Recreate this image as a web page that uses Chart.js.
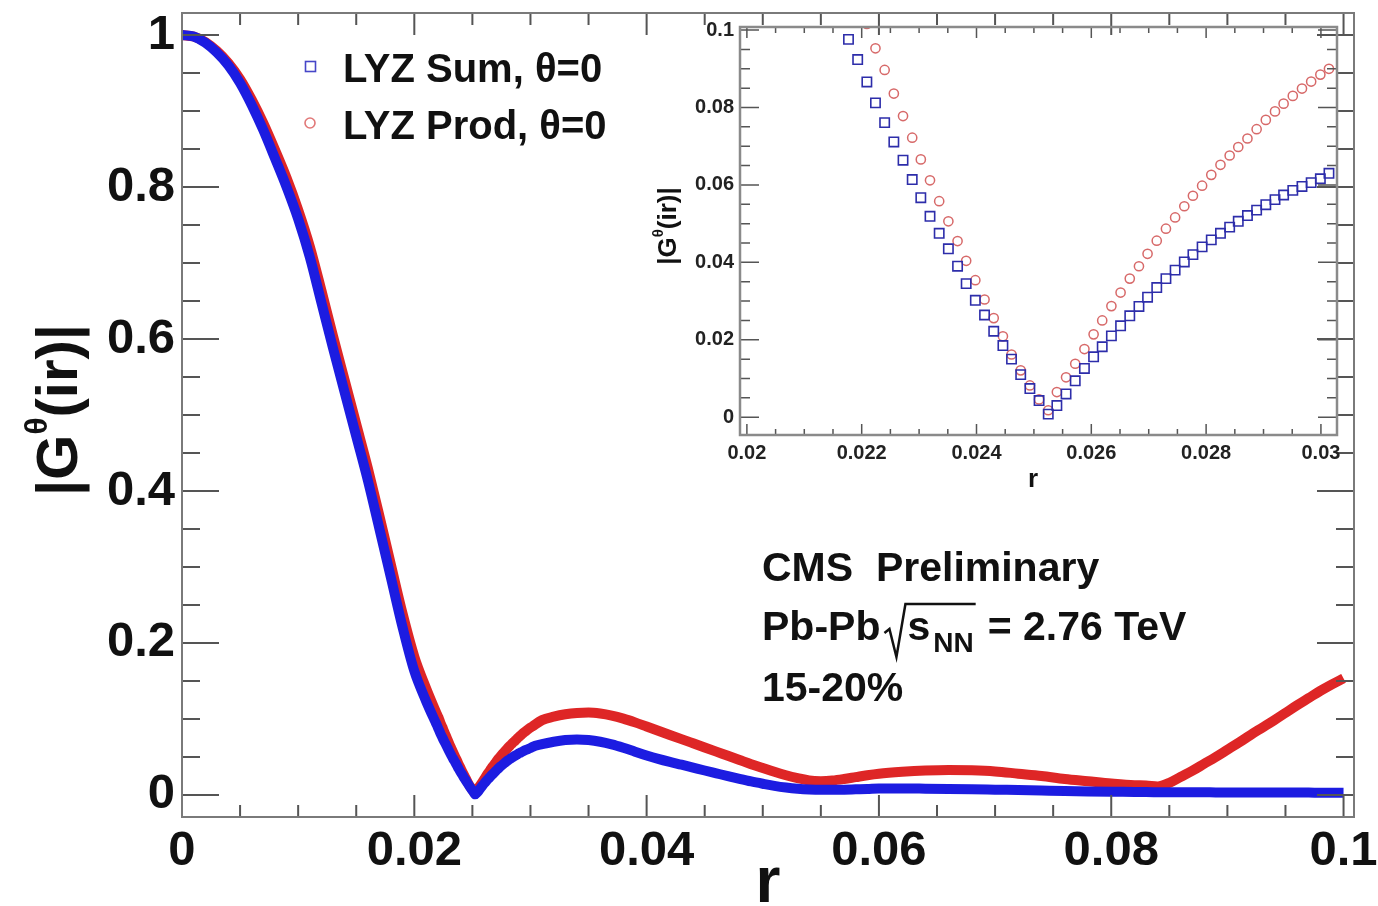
<!DOCTYPE html>
<html>
<head>
<meta charset="utf-8">
<script src="https://cdn.jsdelivr.net/npm/chart.js@4.4.1/dist/chart.umd.min.js"></script>
<style>
  body { margin: 0; background: #fff; }
  #wrap { position: relative; width: 1378px; height: 906px; }
  #mainChart { position: absolute; left: 0; top: 0; }
  #insetChart { position: absolute; left: 640px; top: 0; }
</style>
</head>
<body>
<div id="wrap">
  <canvas id="mainChart" width="1378" height="906"></canvas>
  <canvas id="insetChart" width="720" height="500"></canvas>
</div>
<script>
const seriesNames = ['LYZ Sum, θ=0', 'LYZ Prod, θ=0'];

// main plot, falling edge (r = 0 .. 0.021)
const rHead = [0, 0.001, 0.002, 0.003, 0.004, 0.005, 0.006, 0.007, 0.008, 0.009, 0.010,
  0.011, 0.012, 0.013, 0.014, 0.015, 0.016, 0.017, 0.018, 0.019, 0.020, 0.021];
const sumHead = [1.000, 0.998, 0.990, 0.977, 0.960, 0.937, 0.908, 0.875, 0.838, 0.800, 0.758,
  0.708, 0.648, 0.588, 0.530, 0.472, 0.414, 0.350, 0.285, 0.220, 0.163, 0.124];
const prodHead = [1.000, 0.998, 0.991, 0.979, 0.963, 0.942, 0.915, 0.884, 0.849, 0.812, 0.770,
  0.722, 0.664, 0.604, 0.546, 0.488, 0.430, 0.367, 0.302, 0.238, 0.182, 0.141];

// points around the minimum (these are the ones shown in the inset)
const rZoom = [0.02177, 0.02193, 0.02209, 0.02224, 0.0224, 0.02256, 0.02272, 0.02288, 0.02303, 0.02319,
  0.02335, 0.02351, 0.02367, 0.02382, 0.02398, 0.02414, 0.0243, 0.02446, 0.02461, 0.02477,
  0.02493, 0.02509, 0.02525, 0.0254, 0.02556, 0.02572, 0.02588, 0.02604, 0.02619, 0.02635,
  0.02651, 0.02667, 0.02683, 0.02698, 0.02714, 0.0273, 0.02746, 0.02762, 0.02777, 0.02793,
  0.02809, 0.02825, 0.02841, 0.02856, 0.02872, 0.02888, 0.02904, 0.0292, 0.02935, 0.02951,
  0.02967, 0.02983, 0.02999, 0.03014];
const sumZoom = [0.0976, 0.0924, 0.0866, 0.0812, 0.0761, 0.0711, 0.0664, 0.0614, 0.0567, 0.0519,
  0.0475, 0.0435, 0.0390, 0.0345, 0.0302, 0.0264, 0.0222, 0.0185, 0.0150, 0.0110,
  0.0074, 0.0043, 0.0008, 0.0030, 0.0060, 0.0094, 0.0126, 0.0156, 0.0182, 0.0210,
  0.0236, 0.0262, 0.0286, 0.0310, 0.0335, 0.0358, 0.0380, 0.0401, 0.0420, 0.0440,
  0.0458, 0.0475, 0.0491, 0.0506, 0.0521, 0.0535, 0.0549, 0.0562, 0.0574, 0.0586,
  0.0596, 0.0606, 0.0616, 0.0630];
const prodZoom = [0.1125, 0.1068, 0.1016, 0.0953, 0.0897, 0.0836, 0.0778, 0.0722, 0.0666, 0.0612,
  0.0558, 0.0506, 0.0455, 0.0404, 0.0354, 0.0304, 0.0256, 0.0209, 0.0162, 0.0121,
  0.0082, 0.0046, 0.0018, 0.0065, 0.0103, 0.0138, 0.0176, 0.0214, 0.0250, 0.0287,
  0.0322, 0.0358, 0.0390, 0.0422, 0.0456, 0.0487, 0.0516, 0.0545, 0.0572, 0.0598,
  0.0626, 0.0652, 0.0676, 0.0698, 0.0720, 0.0744, 0.0768, 0.0790, 0.0810, 0.0830,
  0.0849, 0.0867, 0.0885, 0.0900];

// main plot, tail (r = 0.031 .. 0.1)
const rTail = [0.031, 0.032, 0.033, 0.034, 0.035, 0.036, 0.037, 0.038, 0.039, 0.040,
  0.041, 0.042, 0.043, 0.044, 0.045, 0.046, 0.047, 0.048, 0.049, 0.050,
  0.051, 0.052, 0.053, 0.054, 0.055, 0.056, 0.057, 0.058, 0.059, 0.060,
  0.062, 0.064, 0.066, 0.068, 0.070, 0.072, 0.074, 0.076, 0.078, 0.080, 0.082,
  0.083, 0.084, 0.085, 0.086, 0.087, 0.088, 0.089, 0.090, 0.091, 0.092,
  0.093, 0.094, 0.095, 0.096, 0.097, 0.098, 0.099, 0.100];
const sumTail = [0.0668, 0.0700, 0.0722, 0.0730, 0.0722, 0.0700, 0.0665, 0.0620, 0.0570, 0.0520,
  0.0475, 0.0435, 0.0398, 0.0360, 0.0322, 0.0285, 0.0248, 0.0212, 0.0178, 0.0148,
  0.0120, 0.0098, 0.0082, 0.0072, 0.0068, 0.0068, 0.0070, 0.0074, 0.0078, 0.0085,
  0.0085, 0.0083, 0.0080, 0.0076, 0.0070, 0.0064, 0.0058, 0.0052, 0.0047, 0.0043, 0.0040,
  0.0038, 0.0037, 0.0036, 0.0036, 0.0035, 0.0035, 0.0034, 0.0034, 0.0033, 0.0033,
  0.0032, 0.0032, 0.0031, 0.0031, 0.0031, 0.0030, 0.0030, 0.0030];
const prodTail = [0.0985, 0.1030, 0.1062, 0.1080, 0.1085, 0.1072, 0.1045, 0.1005, 0.0955, 0.0900,
  0.0845, 0.0790, 0.0735, 0.0680, 0.0625, 0.0570, 0.0515, 0.0460, 0.0405, 0.0355,
  0.0305, 0.0260, 0.0222, 0.0190, 0.0182, 0.0190, 0.0210, 0.0235, 0.0260, 0.0280,
  0.0305, 0.0322, 0.0330, 0.0325, 0.0310, 0.0280, 0.0250, 0.0210, 0.0180, 0.0150, 0.0128,
  0.0125, 0.0112, 0.0160, 0.0240, 0.0320, 0.0410, 0.0500, 0.0595, 0.0690, 0.0790,
  0.0885, 0.0980, 0.1080, 0.1180, 0.1275, 0.1370, 0.1455, 0.1535];

// axis labels
const mainXTicks = [0, 0.02, 0.04, 0.06, 0.08, 0.1];
const mainYTicks = [0, 0.2, 0.4, 0.6, 0.8, 1];
const insetXTicks = [0.02, 0.022, 0.024, 0.026, 0.028, 0.03];
const insetYTicks = [0, 0.02, 0.04, 0.06, 0.08, 0.1];

const FONT = '"Liberation Sans", Arial, Helvetica, sans-serif';
const blue = 'rgb(28,28,225)';
const red = 'rgb(222,38,38)';

function pts(xs, ys) {
  return xs.map((x, i) => ({ x: x, y: ys[i] }));
}
function fmt(v) {
  return String(Number(v.toPrecision(6)));
}
function steps(from, to, step) {
  const out = [];
  for (let v = from; v <= to + step / 2; v += step) out.push(+v.toFixed(6));
  return out;
}

// draws a few text pieces one after the other (for sub/superscripts)
function drawParts(ctx, parts, x, y, align) {
  let total = 0;
  parts.forEach(p => {
    ctx.font = 'bold ' + p.size + 'px ' + FONT;
    p.w = ctx.measureText(p.text).width;
    total += p.w + (p.gap || 0);
  });
  let cx = align === 'center' ? x - total / 2 : x;
  parts.forEach(p => {
    ctx.font = 'bold ' + p.size + 'px ' + FONT;
    ctx.fillText(p.text, cx, y + (p.dy || 0));
    cx += p.w + (p.gap || 0);
  });
  return cx;
}

// ROOT style frame with ticks pointing inside
function makeFrame(cfg) {
  return {
    id: 'frame',
    afterDraw(chart) {
      const { ctx, chartArea: a, scales: { x, y } } = chart;
      ctx.save();
      ctx.strokeStyle = cfg.tickColor;
      ctx.lineWidth = cfg.tickWidth;
      ctx.beginPath();
      cfg.xMinor.forEach(v => {
        const len = cfg.xMajor.some(m => Math.abs(m - v) < 1e-9) ? cfg.xMajorLen : cfg.xMinorLen;
        const px = x.getPixelForValue(v);
        ctx.moveTo(px, a.bottom); ctx.lineTo(px, a.bottom - len);
        ctx.moveTo(px, a.top); ctx.lineTo(px, a.top + len);
      });
      cfg.yMinor.forEach(v => {
        const len = cfg.yMajor.some(m => Math.abs(m - v) < 1e-9) ? cfg.yMajorLen : cfg.yMinorLen;
        const py = y.getPixelForValue(v);
        ctx.moveTo(a.left, py); ctx.lineTo(a.left + len, py);
        ctx.moveTo(a.right, py); ctx.lineTo(a.right - len, py);
      });
      ctx.stroke();
      ctx.strokeStyle = cfg.frameColor;
      ctx.lineWidth = cfg.frameWidth;
      ctx.strokeRect(a.left, a.top, a.right - a.left, a.bottom - a.top);
      ctx.restore();
    }
  };
}

const mainText = {
  id: 'mainText',
  afterDraw(chart) {
    const ctx = chart.ctx;
    ctx.save();
    ctx.fillStyle = '#111';
    ctx.textAlign = 'left';
    ctx.textBaseline = 'alphabetic';

    // legend
    ctx.lineWidth = 1.6;
    ctx.strokeStyle = 'rgb(70,70,200)';
    ctx.strokeRect(305.5, 61.5, 10, 10);
    ctx.strokeStyle = 'rgb(225,120,120)';
    ctx.beginPath();
    ctx.arc(310, 123, 5, 0, Math.PI * 2);
    ctx.stroke();
    ctx.font = 'bold 40px ' + FONT;
    ctx.fillText(seriesNames[0], 343, 82);
    ctx.fillText(seriesNames[1], 343, 139);

    // CMS label
    ctx.font = 'bold 41px ' + FONT;
    ctx.fillText('CMS  Preliminary', 762, 581);
    let x = drawParts(ctx, [{ text: 'Pb-Pb', size: 41 }], 762, 640, 'left');
    const r0 = x + 4;
    const sEnd = drawParts(ctx, [{ text: 's', size: 41, gap: 3 }, { text: 'NN', size: 28, dy: 12 }], r0 + 23, 640, 'left');
    ctx.lineWidth = 2.5;
    ctx.strokeStyle = '#111';
    ctx.beginPath();
    ctx.moveTo(r0, 633);
    ctx.lineTo(r0 + 5, 629);
    ctx.lineTo(r0 + 12, 657);
    ctx.lineTo(r0 + 21, 604);
    ctx.lineTo(sEnd + 2, 604);
    ctx.stroke();
    ctx.font = 'bold 41px ' + FONT;
    ctx.fillText('= 2.76 TeV', sEnd + 14, 640);
    ctx.fillText('15-20%', 762, 701);

    // axis titles
    ctx.textAlign = 'center';
    ctx.font = 'bold 64px ' + FONT;
    ctx.fillText('r', 768, 902);
    ctx.textAlign = 'left';
    ctx.save();
    ctx.translate(77, 410);
    ctx.rotate(-Math.PI / 2);
    drawParts(ctx, [{ text: '|G', size: 58 }, { text: 'θ', size: 32, dy: -30 }, { text: '(ir)|', size: 58 }], 0, 0, 'center');
    ctx.restore();
    ctx.restore();
  }
};

const insetText = {
  id: 'insetText',
  afterDraw(chart) {
    const ctx = chart.ctx;
    ctx.save();
    ctx.fillStyle = '#111';
    ctx.textBaseline = 'alphabetic';
    ctx.textAlign = 'center';
    ctx.font = 'bold 26px ' + FONT;
    ctx.fillText('r', 393, 487);
    ctx.textAlign = 'left';
    ctx.translate(36, 226);
    ctx.rotate(-Math.PI / 2);
    drawParts(ctx, [{ text: '|G', size: 26 }, { text: 'θ', size: 15, dy: -13 }, { text: '(ir)|', size: 26 }], 0, 0, 'center');
    ctx.restore();
  }
};

const mainR = rHead.concat(rZoom, rTail);
const mainSum = sumHead.concat(sumZoom, sumTail);
const mainProd = prodHead.concat(prodZoom, prodTail);

function fixX(h) {
  return s => { s.height = h; s.paddingLeft = 0; s.paddingRight = 0; };
}
function fixY(w) {
  return s => { s.width = w; s.paddingTop = 0; s.paddingBottom = 0; };
}

new Chart(document.getElementById('mainChart'), {
  type: 'scatter',
  data: {
    datasets: [
      { label: seriesNames[0], data: pts(mainR, mainSum), showLine: true, borderColor: blue, borderWidth: 10,
        pointRadius: 0, cubicInterpolationMode: 'monotone', order: 0 },
      { label: seriesNames[1], data: pts(mainR, mainProd), showLine: true, borderColor: red, borderWidth: 10,
        pointRadius: 0, cubicInterpolationMode: 'monotone', order: 1 }
    ]
  },
  options: {
    responsive: false,
    animation: false,
    layout: { padding: { top: 13, right: 24, left: 0, bottom: 0 } },
    plugins: { legend: { display: false }, tooltip: { enabled: false } },
    scales: {
      x: {
        type: 'linear', min: 0, max: 0.1009,
        grid: { display: false, drawTicks: false }, border: { display: false },
        afterFit: fixX(89),
        afterBuildTicks: s => { s.ticks = mainXTicks.map(v => ({ value: v })); },
        ticks: { padding: 5, autoSkip: false, maxRotation: 0, color: '#111', callback: fmt,
          font: { family: FONT, size: 49, weight: 'bold' } }
      },
      y: {
        type: 'linear', min: -0.029, max: 1.029,
        grid: { display: false, drawTicks: false }, border: { display: false },
        afterFit: fixY(182),
        afterBuildTicks: s => { s.ticks = mainYTicks.map(v => ({ value: v })); },
        ticks: { padding: 7, autoSkip: false, color: '#111', callback: fmt,
          font: { family: FONT, size: 49, weight: 'bold' } }
      }
    }
  },
  plugins: [makeFrame({
    xMinor: steps(0, 0.1, 0.005), xMajor: mainXTicks, xMajorLen: 22, xMinorLen: 12,
    yMinor: steps(0, 1, 0.05), yMajor: mainYTicks, yMajorLen: 37, yMinorLen: 18,
    tickColor: '#555', tickWidth: 2, frameColor: '#7a7a7a', frameWidth: 2
  }), mainText]
});

new Chart(document.getElementById('insetChart'), {
  type: 'scatter',
  data: {
    datasets: [
      { label: seriesNames[0], data: pts(rZoom, sumZoom), pointStyle: 'rect', pointRadius: 6.6,
        borderColor: 'rgb(45,45,170)', backgroundColor: 'rgba(0,0,0,0)', borderWidth: 1.6 },
      { label: seriesNames[1], data: pts(rZoom, prodZoom), pointStyle: 'circle', pointRadius: 4.6,
        borderColor: 'rgb(215,105,105)', backgroundColor: 'rgba(0,0,0,0)', borderWidth: 1.5 }
    ]
  },
  options: {
    responsive: false,
    animation: false,
    clip: 0,
    layout: { padding: { top: 27, right: 23, left: 0, bottom: 0 } },
    plugins: { legend: { display: false }, tooltip: { enabled: false } },
    scales: {
      x: {
        type: 'linear', min: 0.01988, max: 0.03028,
        grid: { display: false, drawTicks: false }, border: { display: false },
        afterFit: fixX(65),
        afterBuildTicks: s => { s.ticks = insetXTicks.map(v => ({ value: v })); },
        ticks: { padding: 6, autoSkip: false, maxRotation: 0, color: '#222', callback: fmt,
          font: { family: FONT, size: 20, weight: 'bold' } }
      },
      y: {
        type: 'linear', min: -0.0046, max: 0.1008,
        grid: { display: false, drawTicks: false }, border: { display: false },
        afterFit: fixY(100),
        afterBuildTicks: s => { s.ticks = insetYTicks.map(v => ({ value: v })); },
        ticks: { padding: 6, autoSkip: false, color: '#222', callback: fmt,
          font: { family: FONT, size: 20, weight: 'bold' } }
      }
    }
  },
  plugins: [makeFrame({
    xMinor: steps(0.02, 0.03, 0.0005), xMajor: insetXTicks, xMajorLen: 11, xMinorLen: 6,
    yMinor: steps(0, 0.1, 0.005), yMajor: insetYTicks, yMajorLen: 19, yMinorLen: 10,
    tickColor: '#555', tickWidth: 1.5, frameColor: '#8a8a8a', frameWidth: 2.5
  }), insetText]
});
</script>
</body>
</html>
